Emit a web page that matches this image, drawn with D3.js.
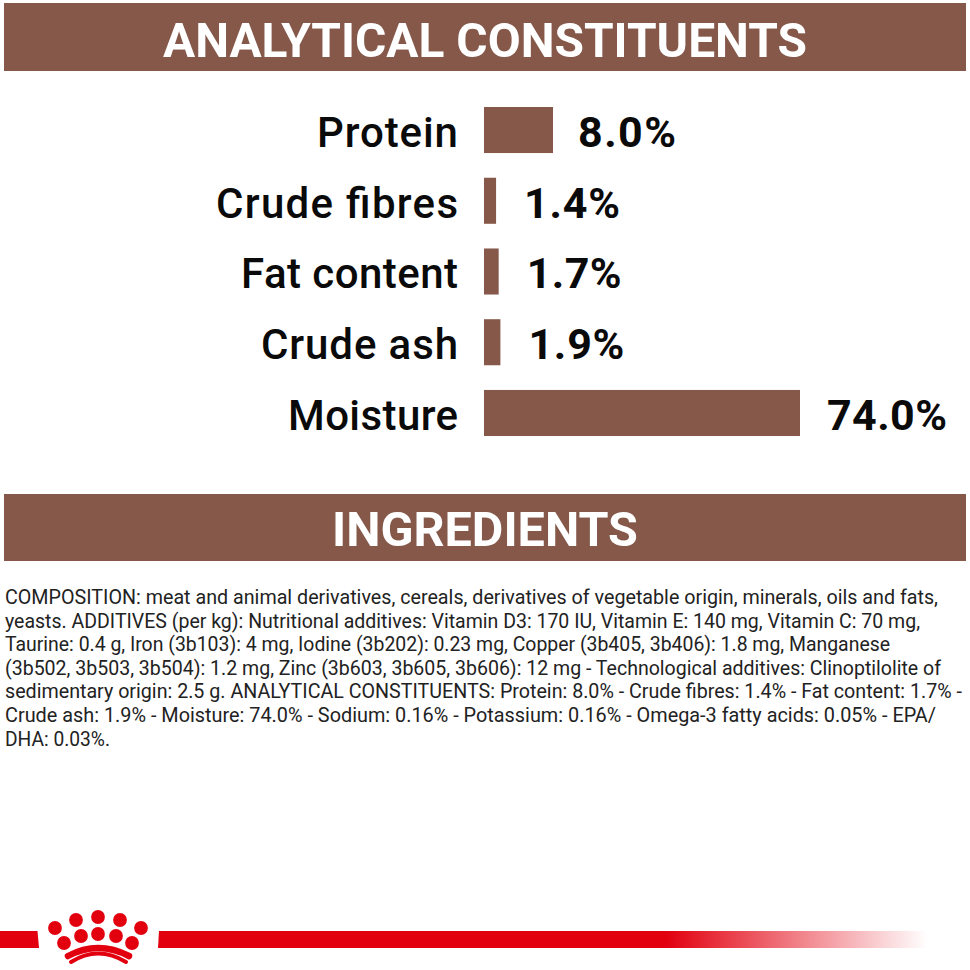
<!DOCTYPE html>
<html>
<head>
<meta charset="utf-8">
<script src="https://cdn.jsdelivr.net/npm/d3@7"></script>
<style>
html, body { margin: 0; padding: 0; background: #fff; }
text { font-family: Roboto, "Liberation Sans", sans-serif; }
</style>
</head>
<body>
<div id="chart"></div>
<script>
var categories = ['Protein', 'Crude fibres', 'Fat content', 'Crude ash', 'Moisture'];
var values = [8.0, 1.4, 1.7, 1.9, 74.0];
var value_labels = ['8.0%', '1.4%', '1.7%', '1.9%', '74.0%'];
var section_titles = ['ANALYTICAL CONSTITUENTS', 'INGREDIENTS'];
var ingredient_lines = [
    'COMPOSITION: meat and animal derivatives, cereals, derivatives of vegetable origin, minerals, oils and fats,',
    'yeasts. ADDITIVES (per kg): Nutritional additives: Vitamin D3: 170 IU, Vitamin E: 140 mg, Vitamin C: 70 mg,',
    'Taurine: 0.4 g, Iron (3b103): 4 mg, Iodine (3b202): 0.23 mg, Copper (3b405, 3b406): 1.8 mg, Manganese',
    '(3b502, 3b503, 3b504): 1.2 mg, Zinc (3b603, 3b605, 3b606): 12 mg - Technological additives: Clinoptilolite of',
    'sedimentary origin: 2.5 g. ANALYTICAL CONSTITUENTS: Protein: 8.0% - Crude fibres: 1.4% - Fat content: 1.7% -',
    'Crude ash: 1.9% - Moisture: 74.0% - Sodium: 0.16% - Potassium: 0.16% - Omega-3 fatty acids: 0.05% - EPA/',
    'DHA: 0.03%.'
];

// measured text widths, the font here is not the one in the picture
var line_widths = [933, 915, 885, 936, 957, 931, 105];
var title_widths = [644, 306];
var cat_widths = [141, 242, 217, 197, 170];
var val_widths = [98, 96, 95, 96, 120];
var val_offsets = [25, 28, 28, 28, 27];

var BROWN = '#85584a', RED = '#e2000f';
var svg = d3.select('#chart').append('svg').attr('width', 970).attr('height', 970);

// header bands
var bands = [[3, 68], [494, 67]];
svg.selectAll('rect.band').data(section_titles).enter().append('rect')
    .attr('class', 'band')
    .attr('x', 4).attr('width', 962)
    .attr('y', function(d, i) { return bands[i][0]; })
    .attr('height', function(d, i) { return bands[i][1]; })
    .attr('fill', BROWN);
svg.selectAll('text.title').data(section_titles).enter().append('text')
    .attr('class', 'title')
    .attr('x', 485)
    .attr('y', function(d, i) { return i ? 546 : 57; })
    .attr('text-anchor', 'middle')
    .attr('font-size', 49).attr('font-weight', 700).attr('fill', '#fff')
    .attr('textLength', function(d, i) { return title_widths[i]; })
    .attr('lengthAdjust', 'spacingAndGlyphs')
    .text(function(d) { return d; });

// bars - the picture's scale is not linear, it bends at the protein value
var x = d3.scaleLinear().domain([0, 8, 74]).range([484, 553, 800]);
var y = d3.scaleBand().domain(categories).range([107, 436]).paddingInner(0.349).paddingOuter(0);

svg.selectAll('rect.bar').data(values).enter().append('rect')
    .attr('class', 'bar')
    .attr('x', x(0))
    .attr('y', function(d, i) { return y(categories[i]); })
    .attr('width', function(d) { return x(d) - x(0); })
    .attr('height', y.bandwidth())
    .attr('fill', BROWN);

svg.selectAll('text.cat').data(categories).enter().append('text')
    .attr('class', 'cat')
    .attr('x', 458)
    .attr('y', function(d) { return y(d) + 40; })
    .attr('text-anchor', 'end')
    .attr('font-size', 42).attr('font-weight', 500).attr('fill', '#0a0a0a')
    .attr('textLength', function(d, i) { return cat_widths[i]; })
    .attr('lengthAdjust', 'spacing')
    .text(function(d) { return d; });

svg.selectAll('text.val').data(value_labels).enter().append('text')
    .attr('class', 'val')
    .attr('x', function(d, i) { return x(values[i]) + val_offsets[i]; })
    .attr('y', function(d, i) { return y(categories[i]) + 40; })
    .attr('font-size', 43).attr('font-weight', 700).attr('fill', '#0a0a0a')
    .attr('textLength', function(d, i) { return val_widths[i]; })
    .attr('lengthAdjust', 'spacing')
    .text(function(d) { return d; });

// ingredients paragraph
svg.selectAll('text.ing').data(ingredient_lines).enter().append('text')
    .attr('class', 'ing')
    .attr('x', 5)
    .attr('y', function(d, i) { return 604 + i * 23.6; })
    .attr('font-size', 19.5).attr('fill', '#222')
    .attr('textLength', function(d, i) { return line_widths[i]; })
    .attr('lengthAdjust', 'spacingAndGlyphs')
    .text(function(d) { return d; });

// footer rule, fading out to the right
var grad = svg.append('defs').append('linearGradient').attr('id', 'fade');
grad.append('stop').attr('offset', '0').attr('stop-color', RED);
grad.append('stop').attr('offset', '0.66').attr('stop-color', RED);
grad.append('stop').attr('offset', '1').attr('stop-color', RED).attr('stop-opacity', 0);
svg.append('path').attr('d', 'M0 931 H37.5 L39 948 H0 Z').attr('fill', RED);
svg.append('path').attr('d', 'M159 931 H928 V948 H158 Z').attr('fill', 'url(#fade)');

// crown logo
var crown = svg.append('g').attr('fill', RED);
var dots = [[55, 928], [64, 943], [76, 920], [81, 936], [98, 917], [98, 934], [120, 920], [116, 936], [141, 928], [132, 943]];
crown.selectAll('circle').data(dots).enter().append('circle')
    .attr('cx', function(d) { return d[0]; })
    .attr('cy', function(d) { return d[1]; })
    .attr('r', 6.9);
crown.append('path').attr('d', 'M68 956 Q98 940 129 956').attr('fill', 'none').attr('stroke', RED).attr('stroke-width', 6.5).attr('stroke-linecap', 'round');
crown.append('path').attr('d', 'M71 962 Q98 945 126 962').attr('fill', 'none').attr('stroke', RED).attr('stroke-width', 4).attr('stroke-linecap', 'round');
</script>
</body>
</html>
